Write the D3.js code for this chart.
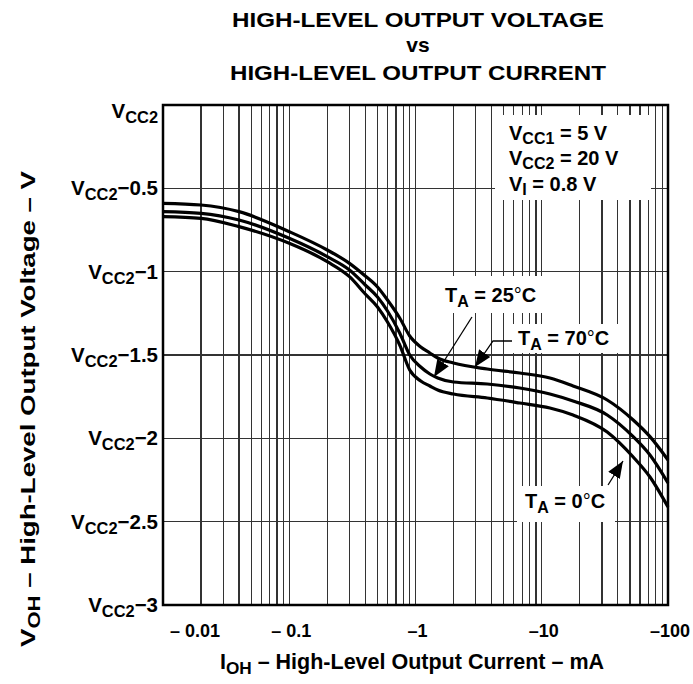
<!DOCTYPE html>
<html><head><meta charset="utf-8">
<script src="https://cdn.jsdelivr.net/npm/d3@7"></script>
<style>body{margin:0;background:#fff}svg{display:block}text{font-family:"Liberation Sans",Arial,sans-serif;font-weight:bold;fill:#000}</style>
</head><body><svg id="c" width="693" height="684"></svg>
<script>
// ---- data ----
const currents = [0.01, 0.02, 0.04, 0.1, 0.2, 0.3, 0.4, 0.5, 0.6, 0.75, 0.9, 1.1, 1.3, 1.5, 2, 3.7, 6.7, 11.6, 17.7, 33, 53, 72, 100];
const vOH_70C = [-0.59,-0.60,-0.64,-0.76,-0.87,-0.95,-1.026,-1.092,-1.17,-1.278,-1.386,-1.452,-1.488,-1.518,-1.548,-1.584,-1.608,-1.638,-1.686,-1.77,-1.89,-1.99,-2.13];
const vOH_25C = [-0.64,-0.65,-0.69,-0.80,-0.91,-0.99,-1.08,-1.152,-1.236,-1.368,-1.50,-1.572,-1.614,-1.638,-1.662,-1.674,-1.698,-1.734,-1.776,-1.86,-1.99,-2.10,-2.268];
const vOH_0C  = [-0.67,-0.68,-0.73,-0.83,-0.94,-1.03,-1.134,-1.212,-1.302,-1.44,-1.59,-1.656,-1.686,-1.71,-1.734,-1.758,-1.788,-1.818,-1.86,-1.962,-2.112,-2.232,-2.412];
const xTickValues = [0.01, 0.1, 1, 10, 100];
const xTickLabels = ["\u2013 0.01", "\u2013 0.1", "\u20131", "\u201310", "\u2013100"];
const yTickValues = [0, -0.5, -1, -1.5, -2, -2.5, -3];
const yTickSuffix = ["", "\u22120.5", "\u22121", "\u22121.5", "\u22122", "\u22122.5", "\u22123"];

const svg = d3.select("#c");
const x = d3.scaleLog().domain([0.01, 100]).range([163, 668]);
const y = d3.scaleLinear().domain([-3, 0]).range([605, 105]);

const gridX = [];
for (let e = -2; e <= 1; e++) for (let k = 1; k <= 9; k++) gridX.push(k * Math.pow(10, e));
gridX.push(100);

const g = svg.append("g");
g.selectAll("line.vx").data(gridX).enter().append("line")
  .attr("x1", d => x(d)).attr("x2", d => x(d)).attr("y1", y(0)).attr("y2", y(-3))
  .attr("stroke", "#333").attr("stroke-width", 1.2).attr("shape-rendering", "crispEdges");
g.selectAll("line.hy").data(yTickValues).enter().append("line")
  .attr("x1", x(0.01)).attr("x2", x(100)).attr("y1", d => y(d)).attr("y2", d => y(d))
  .attr("stroke", "#333").attr("stroke-width", 1.2).attr("shape-rendering", "crispEdges");

// white label boxes
const boxes = [[495, 115, 156, 85], [440, 276, 108, 37], [512, 324, 111, 29], [517, 486, 98, 36]];
g.selectAll("rect.box").data(boxes).enter().append("rect")
  .attr("x", d => d[0]).attr("y", d => d[1]).attr("width", d => d[2]).attr("height", d => d[3]).attr("fill", "#fff");

svg.append("rect").attr("x", x(0.01)).attr("y", y(0)).attr("width", x(100) - x(0.01)).attr("height", y(-3) - y(0))
  .attr("fill", "none").attr("stroke", "#000").attr("stroke-width", 2.5);

const line = d3.line().x(d => x(d[0])).y(d => y(d[1])).curve(d3.curveMonotoneX);
[vOH_70C, vOH_25C, vOH_0C].forEach(s => {
  svg.append("path").attr("d", line(currents.map((c, i) => [c, s[i]])))
    .attr("fill", "none").attr("stroke", "#000").attr("stroke-width", 3.2);
});

svg.append("defs").append("marker").attr("id", "ah").attr("viewBox", "0 0 10 10").attr("refX", 10).attr("refY", 5)
  .attr("markerWidth", 17).attr("markerHeight", 17).attr("markerUnits", "userSpaceOnUse").attr("orient", "auto")
  .append("path").attr("d", "M0,1 L10,5 L0,9 Z").attr("fill", "#000");
const arrows = [
  [[x(2.8), y(-1.272)], [x(1.40), y(-1.632)]],
  [[512, 341], [493, 341], [x(2.96), y(-1.572)]],
  [[x(33.5), y(-2.28)], [x(44), y(-2.136)]]
];
arrows.forEach(pts => {
  svg.append("path").attr("d", d3.line()(pts)).attr("fill", "none").attr("stroke", "#000").attr("stroke-width", 1.3)
    .attr("marker-end", "url(#ah)");
});

function sub(xp, yp, parts, size, anchor, drop) {
  const dd = drop || 0.25;
  const t = svg.append("text").attr("x", xp).attr("y", yp).attr("font-size", size).attr("text-anchor", anchor || "start");
  parts.forEach(p => {
    const ts = t.append("tspan").text(p[0]);
    if (p[1] === 1) ts.attr("font-size", size * 0.8).attr("dy", size * dd);
    if (p[1] === -1) ts.attr("dy", -size * dd);
    if (p[2]) ts.attr("font-weight", "normal");
  });
  return t;
}

[["HIGH-LEVEL OUTPUT VOLTAGE", 27, 372], ["vs", 52, 0], ["HIGH-LEVEL OUTPUT CURRENT", 80, 376]].forEach(d => {
  const t = svg.append("text").attr("x", 418).attr("y", d[1]).attr("text-anchor", "middle").attr("font-size", 21).text(d[0]);
  if (d[2]) t.attr("textLength", d[2]).attr("lengthAdjust", "spacingAndGlyphs");
});

yTickValues.forEach((v, i) => {
  sub(158, y(v) + (i === 0 ? 13 : 7), [["V"], ["CC2", 1], [yTickSuffix[i], -1]], 20.5, "end");
});
xTickValues.forEach((v, i) => {
  svg.append("text").attr("x", i === 0 ? x(v) + 32 : x(v) + 2).attr("y", 637).attr("text-anchor", "middle")
    .attr("font-size", 18).text(xTickLabels[i]);
});

sub(412, 669, [["I"], ["OH", 1], ["  \u2013 High-Level Output Current \u2013 mA", -1]], 21.5, "middle");
const yt = sub(0, 0, [["V"], ["OH", 1], [" \u2013 High-Level Output Voltage \u2013 V", -1]], 21, "middle");
yt.attr("transform", "translate(35,409) rotate(-90)").attr("textLength", 476).attr("lengthAdjust", "spacingAndGlyphs");

sub(509, 140, [["V"], ["CC1", 1], [" = 5 V", -1]], 20, "start", 0.2);
sub(509, 165, [["V"], ["CC2", 1], [" = 20 V", -1]], 20, "start", 0.2);
sub(509, 191, [["V"], ["I", 1], [" = 0.8 V", -1]], 20, "start", 0.2);
sub(445, 302, [["T"], ["A", 1], [" = 25", -1], ["\u00b0", 0, 1], ["C"]], 20);
sub(518, 345, [["T"], ["A", 1], [" = 70", -1], ["\u00b0", 0, 1], ["C"]], 20);
sub(525, 508, [["T"], ["A", 1], [" = 0", -1], ["\u00b0", 0, 1], ["C"]], 20);
</script></body></html>
